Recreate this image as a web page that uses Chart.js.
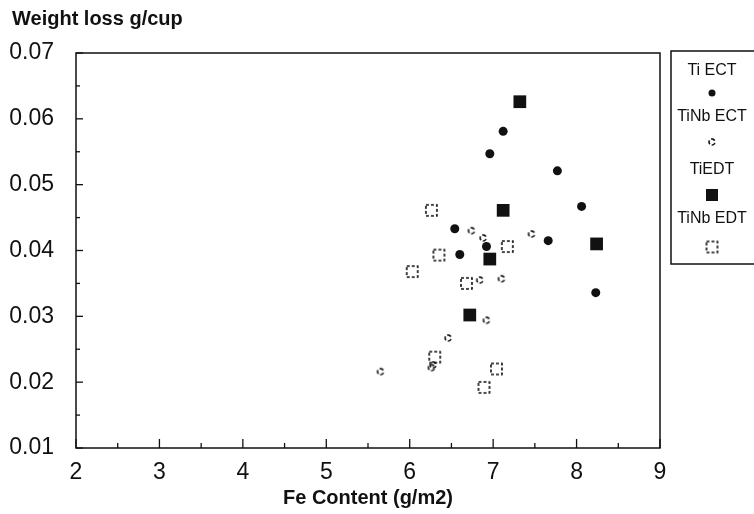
<!DOCTYPE html>
<html>
<head>
<meta charset="utf-8">
<script src="https://cdn.jsdelivr.net/npm/chart.js@4.4.1/dist/chart.umd.min.js"></script>
<style>
  html, body { margin: 0; padding: 0; background: #fff; }
  #wrap { width: 754px; height: 514px; }
</style>
</head>
<body>
<div id="wrap"><canvas id="c" width="754" height="514"></canvas></div>
<script>
// series
const seriesNames = ['Ti ECT', 'TiNb ECT', 'TiEDT', 'TiNb EDT'];
const tiEctX = [7.12, 6.96, 7.77, 8.06, 6.54, 7.66, 6.92, 6.60, 8.23];
const tiEctY = [0.0581, 0.0547, 0.0521, 0.0467, 0.0433, 0.0415, 0.0406, 0.0394, 0.0336];
const tinbEctX = [6.74, 6.88, 7.46, 6.84, 7.10, 6.92, 6.46, 5.65, 6.26, 6.28];
const tinbEctY = [0.0430, 0.0419, 0.0425, 0.0355, 0.0357, 0.0294, 0.0267, 0.0216, 0.0222, 0.0226];
const tiEdtX = [7.32, 7.12, 8.24, 6.96, 6.72];
const tiEdtY = [0.0626, 0.0461, 0.0410, 0.0387, 0.0302];
const tinbEdtX = [6.26, 7.17, 6.35, 6.03, 6.68, 6.30, 7.04, 6.89];
const tinbEdtY = [0.0461, 0.0406, 0.0393, 0.0368, 0.0350, 0.0238, 0.0220, 0.0192];
const xTicks = [2, 3, 4, 5, 6, 7, 8, 9];
const yTicks = [0.01, 0.02, 0.03, 0.04, 0.05, 0.06, 0.07];

const pts = (xs, ys) => xs.map((x, i) => ({ x: x, y: ys[i] }));
const FONT = '"Liberation Sans", Arial, sans-serif';

// little dashed markers, like the scanned plot
function dashedSquare(size) {
  const cv = document.createElement('canvas');
  cv.width = size + 4; cv.height = size + 4;
  const g = cv.getContext('2d');
  g.strokeStyle = '#111';
  g.lineWidth = 1.6;
  g.setLineDash([3, 2]);
  g.strokeRect(2, 2, size, size);
  return cv;
}
function dashedCircle(r) {
  const cv = document.createElement('canvas');
  cv.width = r * 2 + 4; cv.height = r * 2 + 4;
  const g = cv.getContext('2d');
  g.strokeStyle = '#111';
  g.lineWidth = 1.6;
  g.setLineDash([4, 2]);
  g.beginPath();
  g.arc(r + 2, r + 2, r, 0.3, Math.PI * 2);
  g.stroke();
  return cv;
}
const openSq = dashedSquare(11);
const openCirc = dashedCircle(3);

// ticks pointing into the plot, labels and legend box
const framePlugin = {
  id: 'frame',
  afterDraw(chart) {
    const ctx = chart.ctx;
    const a = chart.chartArea;
    const xs = chart.scales.x, ys = chart.scales.y;
    ctx.save();
    ctx.strokeStyle = '#111';
    ctx.lineWidth = 1.5;
    ctx.strokeRect(a.left, a.top, a.right - a.left, a.bottom - a.top);
    ctx.lineWidth = 1.3;
    for (let v = 2; v <= 9.001; v += 0.5) {
      const px = xs.getPixelForValue(v);
      const len = Math.abs(v - Math.round(v)) < 0.01 ? 9 : 5;
      ctx.beginPath(); ctx.moveTo(px, a.bottom); ctx.lineTo(px, a.bottom - len); ctx.stroke();
    }
    for (let v = 0.01; v <= 0.0701; v += 0.005) {
      const py = ys.getPixelForValue(v);
      const major = Math.abs(v * 100 - Math.round(v * 100)) < 0.01;
      ctx.beginPath(); ctx.moveTo(a.left, py); ctx.lineTo(a.left + (major ? 7 : 4), py); ctx.stroke();
    }

    ctx.fillStyle = '#111';
    ctx.font = 'bold 20px ' + FONT;
    ctx.textAlign = 'left';
    ctx.textBaseline = 'middle';
    ctx.fillText('Weight loss g/cup', 12, 19);

    // legend
    const lx = 671, ly = 51, lw = 90, lh = 213;
    ctx.lineWidth = 1.5;
    ctx.strokeRect(lx, ly, lw, lh);
    const cx = 712;
    const textY = [71, 117, 170, 219];
    const markY = [93, 142, 195, 247];
    ctx.font = '16px ' + FONT;
    ctx.textAlign = 'center';
    chart.data.datasets.forEach((ds, i) => {
      ctx.fillStyle = '#111';
      ctx.fillText(ds.label, cx, textY[i]);
      const st = ds.pointStyle;
      if (st === 'circle') {
        ctx.beginPath(); ctx.arc(cx, markY[i], 3.5, 0, Math.PI * 2); ctx.fill();
      } else if (st === 'rect') {
        ctx.fillRect(cx - 6, markY[i] - 6, 12, 12);
      } else {
        ctx.drawImage(st, cx - st.width / 2, markY[i] - st.height / 2);
      }
    });
    ctx.restore();
  }
};

new Chart(document.getElementById('c'), {
  type: 'scatter',
  data: {
    datasets: [
      { label: seriesNames[0], data: pts(tiEctX, tiEctY), pointStyle: 'circle', pointRadius: 4.5,
        backgroundColor: '#111', borderColor: '#111', borderWidth: 0 },
      { label: seriesNames[1], data: pts(tinbEctX, tinbEctY), pointStyle: openCirc, pointRadius: 4,
        backgroundColor: '#111', borderColor: '#111' },
      { label: seriesNames[2], data: pts(tiEdtX, tiEdtY), pointStyle: 'rect', pointRadius: 9,
        backgroundColor: '#111', borderColor: '#111', borderWidth: 0 },
      { label: seriesNames[3], data: pts(tinbEdtX, tinbEdtY), pointStyle: openSq, pointRadius: 7,
        backgroundColor: '#111', borderColor: '#111' }
    ]
  },
  options: {
    responsive: false,
    animation: false,
    events: [],
    layout: { padding: { top: 53, right: 94, left: 0, bottom: 0 } },
    plugins: { legend: { display: false }, tooltip: { enabled: false }, title: { display: false } },
    scales: {
      x: {
        type: 'linear', min: 2, max: 9,
        afterBuildTicks: s => { s.ticks = xTicks.map(v => ({ value: v })); },
        afterFit: s => { s.height = 66; },
        grid: { display: false },
        border: { display: false },
        ticks: { color: '#111', padding: 3, font: { size: 23, family: FONT } },
        title: { display: true, text: 'Fe Content (g/m2)', color: '#111', padding: { top: 0, bottom: 4 },
          font: { size: 20, weight: 'bold', family: FONT } }
      },
      y: {
        type: 'linear', min: 0.01, max: 0.07,
        afterBuildTicks: s => { s.ticks = yTicks.map(v => ({ value: v })); },
        afterFit: s => { s.width = 76; },
        grid: { display: false },
        border: { display: false },
        ticks: { color: '#111', padding: 14, callback: v => v.toFixed(2),
          font: { size: 23, family: FONT } }
      }
    }
  },
  plugins: [framePlugin]
});
</script>
</body>
</html>
